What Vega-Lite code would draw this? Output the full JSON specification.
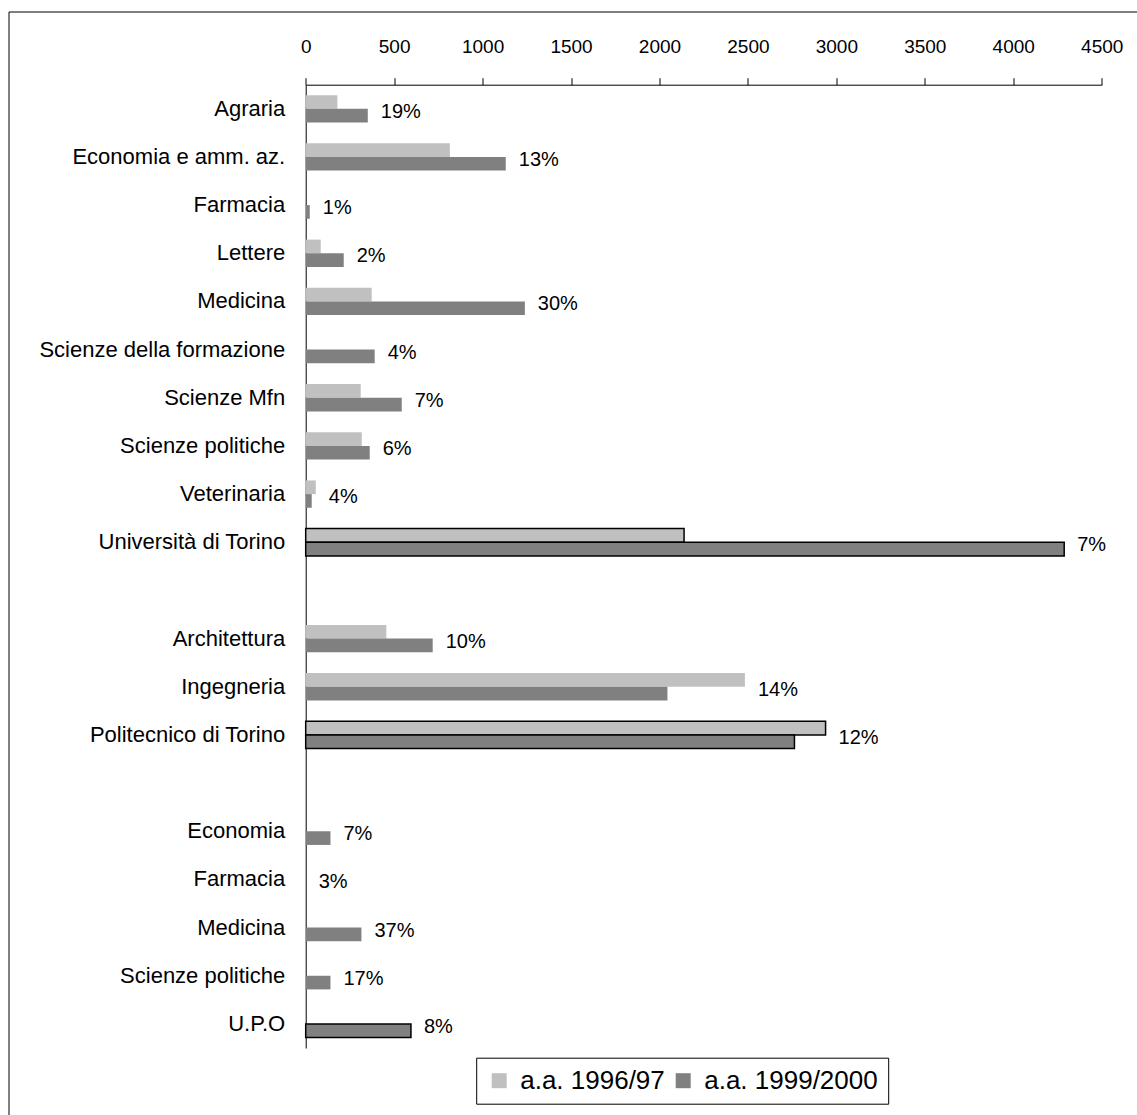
{
  "$schema": "https://vega.github.io/schema/vega-lite/v6.json",
  "autosize": {"type": "none"},
  "width": 1130,
  "height": 1105,
  "padding": {"left": 8.5, "top": 11.5, "right": 0, "bottom": 0},
  "background": "white",
  "config": {
    "view": {"stroke": "black", "strokeWidth": 1},
    "font": "Liberation Sans",
    "text": {"font": "Liberation Sans"}
  },
  "data": {
    "values": [
      {"cat": "Agraria", "series": "a.a. 1996/97", "value": 179},
      {"cat": "Agraria", "series": "a.a. 1999/2000", "value": 351, "pct": "19%"},
      {"cat": "Economia e amm. az.", "series": "a.a. 1996/97", "value": 815},
      {"cat": "Economia e amm. az.", "series": "a.a. 1999/2000", "value": 1131, "pct": "13%"},
      {"cat": "Farmacia", "series": "a.a. 1999/2000", "value": 23, "pct": "1%"},
      {"cat": "Lettere", "series": "a.a. 1996/97", "value": 85},
      {"cat": "Lettere", "series": "a.a. 1999/2000", "value": 215, "pct": "2%"},
      {"cat": "Medicina", "series": "a.a. 1996/97", "value": 373},
      {"cat": "Medicina", "series": "a.a. 1999/2000", "value": 1239, "pct": "30%"},
      {"cat": "Scienze della formazione", "series": "a.a. 1999/2000", "value": 390, "pct": "4%"},
      {"cat": "Scienze Mfn", "series": "a.a. 1996/97", "value": 311},
      {"cat": "Scienze Mfn", "series": "a.a. 1999/2000", "value": 543, "pct": "7%"},
      {"cat": "Scienze politiche", "series": "a.a. 1996/97", "value": 317},
      {"cat": "Scienze politiche", "series": "a.a. 1999/2000", "value": 362, "pct": "6%"},
      {"cat": "Veterinaria", "series": "a.a. 1996/97", "value": 57},
      {"cat": "Veterinaria", "series": "a.a. 1999/2000", "value": 34, "pct": "4%"},
      {"cat": "Università di Torino", "series": "a.a. 1996/97", "value": 2139},
      {"cat": "Università di Torino", "series": "a.a. 1999/2000", "value": 4288, "pct": "7%"},
      {"cat": "Architettura", "series": "a.a. 1996/97", "value": 456},
      {"cat": "Architettura", "series": "a.a. 1999/2000", "value": 718, "pct": "10%"},
      {"cat": "Ingegneria", "series": "a.a. 1996/97", "value": 2483},
      {"cat": "Ingegneria", "series": "a.a. 1999/2000", "value": 2045, "pct": "14%"},
      {"cat": "Politecnico di Torino", "series": "a.a. 1996/97", "value": 2939},
      {"cat": "Politecnico di Torino", "series": "a.a. 1999/2000", "value": 2763, "pct": "12%"},
      {"cat": "Economia", "series": "a.a. 1999/2000", "value": 140, "pct": "7%"},
      {"cat": "Farmacia#2", "series": "a.a. 1999/2000", "value": 0, "pct": "3%"},
      {"cat": "Medicina#2", "series": "a.a. 1999/2000", "value": 315, "pct": "37%"},
      {"cat": "Scienze politiche#2", "series": "a.a. 1999/2000", "value": 140, "pct": "17%"},
      {"cat": "U.P.O", "series": "a.a. 1999/2000", "value": 595, "pct": "8%"}
    ]
  },
  "transform": [
    {"joinaggregate": [{"op": "max", "field": "value", "as": "maxv"}], "groupby": ["cat"]}
  ],
  "encoding": {
    "y": {
      "field": "cat",
      "type": "nominal",
      "scale": {
        "domain": ["Agraria", "Economia e amm. az.", "Farmacia", "Lettere", "Medicina", "Scienze della formazione", "Scienze Mfn", "Scienze politiche", "Veterinaria", "Università di Torino", "#gap1", "Architettura", "Ingegneria", "Politecnico di Torino", "#gap2", "Economia", "Farmacia#2", "Medicina#2", "Scienze politiche#2", "U.P.O"],
        "range": [73.2, 1036.5],
        "paddingInner": 0.433,
        "paddingOuter": 0.2165
      },
      "axis": {
        "orient": "left",
        "offset": -297.2,
        "title": null,
        "ticks": false,
        "tickSize": 0,
        "domainColor": "black",
        "domainWidth": 1,
        "labelFontSize": 22,
        "labelColor": "black",
        "labelPadding": 21,
        "labelLimit": 400,
        "labelFont": "Liberation Sans",
        "labelExpr": "split(datum.value, '#')[0]"
      }
    }
  },
  "layer": [
    {
      "mark": {"type": "bar", "stroke": "black"},
      "encoding": {
        "x": {
          "field": "value",
          "type": "quantitative",
          "scale": {"domain": [0, 4500], "range": [297.2, 1093.2], "nice": false, "zero": true},
          "axis": {
            "orient": "top",
            "offset": -73.2,
            "title": null,
            "grid": false,
            "format": "d",
            "values": [0, 500, 1000, 1500, 2000, 2500, 3000, 3500, 4000, 4500],
            "tickSize": 7,
            "tickColor": "black",
            "domainColor": "black",
            "labelColor": "black",
            "labelFontSize": 19,
            "labelFont": "Liberation Sans",
            "labelPadding": 21,
            "labelFlush": false,
            "labelOverlap": false
          }
        },
        "yOffset": {
          "field": "series",
          "type": "nominal",
          "scale": {"domain": ["a.a. 1996/97", "a.a. 1999/2000"], "paddingInner": 0, "paddingOuter": 0}
        },
        "color": {
          "field": "series",
          "type": "nominal",
          "scale": {"domain": ["a.a. 1996/97", "a.a. 1999/2000"], "range": ["#C0C0C0", "#808080"]},
          "legend": {
            "orient": "none",
            "legendX": 467.7,
            "legendY": 1046.2,
            "direction": "horizontal",
            "title": null,
            "strokeColor": "black",
            "fillColor": "white",
            "padding": 10,
            "labelFontSize": 26,
            "labelFont": "Liberation Sans",
            "labelColor": "black",
            "labelLimit": 400,
            "symbolType": "square",
            "symbolSize": 225,
            "symbolStrokeWidth": 0,
            "symbolOpacity": 1,
            "labelOffset": 8,
            "columnPadding": 5
          }
        },
        "strokeWidth": {
          "condition": {"test": "datum.cat == 'Università di Torino' || datum.cat == 'Politecnico di Torino' || datum.cat == 'U.P.O'", "value": 1.5},
          "value": 0
        }
      }
    },
    {
      "transform": [{"filter": "isValid(datum.pct)"}],
      "mark": {"type": "text", "align": "left", "baseline": "middle", "dx": 13, "dy": 3, "fontSize": 20, "font": "Liberation Sans", "color": "black"},
      "encoding": {
        "x": {"field": "maxv", "type": "quantitative"},
        "text": {"field": "pct"}
      }
    }
  ]
}
